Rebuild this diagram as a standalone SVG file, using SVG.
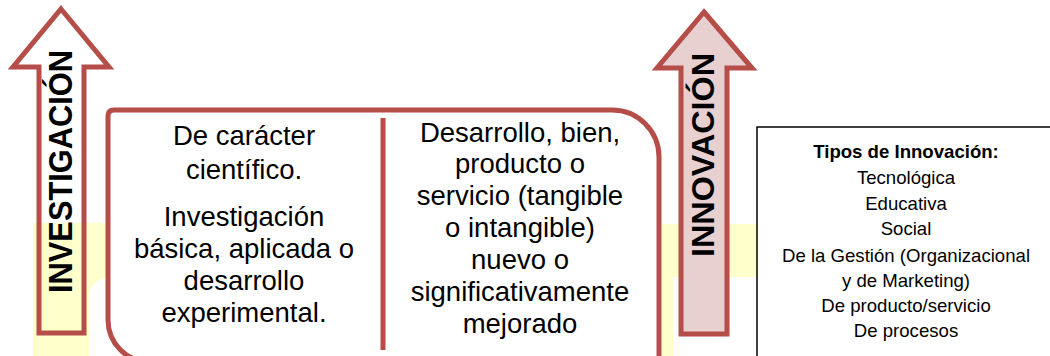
<svg xmlns="http://www.w3.org/2000/svg" width="1050" height="356" viewBox="0 0 1050 356">
<style>
.red{stroke:#b54d48;stroke-width:5;stroke-linejoin:miter}
.body{font-family:"Liberation Sans",Arial,sans-serif;font-size:27.5px;fill:#000;text-anchor:middle}
.arrowtxt{font-family:"Liberation Sans",Arial,sans-serif;font-weight:bold;fill:#000;text-anchor:middle}
.info{font-family:"Liberation Sans",Arial,sans-serif;font-size:18.6px;fill:#000;text-anchor:middle}
</style>
<rect width="1050" height="356" fill="#ffffff"/>
<g id="highlights">
<path d="M33,223 H107 V356 H33 Z" fill="#ffffcc"/>
<path d="M89,356 V297 A19,19 0 0 1 108,278 H112 V356 Z" fill="#ffffff"/>
<path d="M662,224 H757 V277 H673 V356 H662 Z" fill="#ffffcc"/>
</g>
<g id="main-box">
<path class="red" d="M108,116 Q108,110 114,110 H612 A47,47 0 0 1 659,157 V362 H150 A42,42 0 0 1 108,320 Z" fill="#ffffff"/>
<line class="red" x1="383" y1="118" x2="383" y2="350" stroke-width="4"/>
</g>
<g id="left-column">
<text class="body" x="244" y="145">De carácter</text>
<text class="body" x="244" y="178.5">científico.</text>
<text class="body" x="244" y="226">Investigación</text>
<text class="body" x="244" y="258">básica, aplicada o</text>
<text class="body" x="244" y="290">desarrollo</text>
<text class="body" x="244" y="322">experimental.</text>
</g>
<g id="right-column">
<text class="body" x="520" y="141.5">Desarrollo, bien,</text>
<text class="body" x="520" y="173.4">producto o</text>
<text class="body" x="520" y="205.3">servicio (tangible</text>
<text class="body" x="520" y="237.2">o intangible)</text>
<text class="body" x="520" y="269.1">nuevo o</text>
<text class="body" x="520" y="301">significativamente</text>
<text class="body" x="520" y="333">mejorado</text>
</g>
<g id="investigacion-arrow">
<path class="red" d="M61,9 L109,67 H84 V333 H39 V67 H13 Z" fill="none"/>
<text class="arrowtxt" font-size="34" transform="translate(72,171.5) rotate(-90)" x="0" y="0" textLength="243" lengthAdjust="spacingAndGlyphs">INVESTIGACIÓN</text>
</g>
<g id="innovacion-arrow">
<path class="red" d="M704,12 L752,68 H727 V334 H681 V68 H657 Z" fill="#e8d0d1"/>
<text class="arrowtxt" font-size="31" transform="translate(714,155) rotate(-90)" x="0" y="0" textLength="204" lengthAdjust="spacingAndGlyphs">INNOVACIÓN</text>
</g>
<g id="tipos-box">
<rect x="757" y="127" width="300" height="240" fill="#ffffff" stroke="#000" stroke-width="1.5"/>
<text class="info" x="906" y="158.3" font-weight="bold" font-size="18.3">Tipos de Innovación:</text>
<text class="info" x="906" y="183.5">Tecnológica</text>
<text class="info" x="906" y="209.5">Educativa</text>
<text class="info" x="906" y="235">Social</text>
<text class="info" x="906" y="261.5">De la Gestión (Organizacional</text>
<text class="info" x="906" y="286.7">y de Marketing)</text>
<text class="info" x="906" y="311.7">De producto/servicio</text>
<text class="info" x="906" y="336.7">De procesos</text>
</g>
<g id="connectors"></g>
</svg>
